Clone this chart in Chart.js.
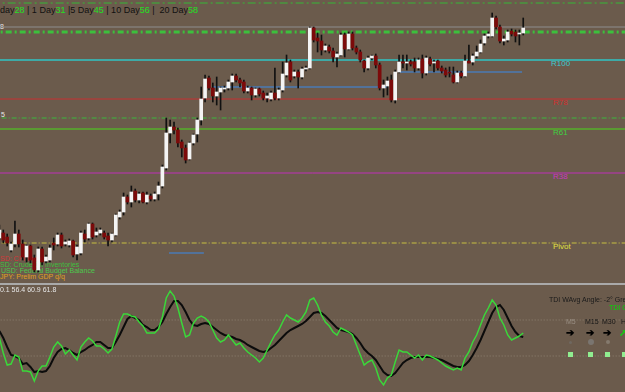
<!DOCTYPE html>
<html lang="en">

<head>
    <meta charset="UTF-8" />
    <title>TDI H1</title>
    <script src="https://cdn.jsdelivr.net/npm/chart.js"></script>
    <style>
        body {
            margin: 0;
            width: 625px;
            height: 392px;
            overflow: hidden;
            position: relative;
            background: #6b5b4c;
            font-family: "Liberation Sans", Arial, sans-serif;
        }

        canvas {
            position: absolute;
            left: 0;
        }

        #precio { top: 0; }
        #tdi { top: 285px; }

        .sep {
            position: absolute;
            left: 0;
            top: 283px;
            width: 625px;
            height: 2px;
            background: #a9a9a9;
        }

        .t {
            position: absolute;
            white-space: pre;
            font-size: 8px;
            line-height: 8px;
        }

        .g { color: #22e022; }

        .sq {
            position: absolute;
            width: 5px;
            height: 5px;
            background: #90ee90;
        }

        .dot {
            position: absolute;
            border-radius: 50%;
        }
    </style>
</head>

<body>

    <!-- textos detras de las velas -->
    <div class="t" style="left:0;top:6px;font-size:9px;line-height:9px;color:#111">day<span class="g">28</span> | 1 Day<span class="g">31</span> |5 Day<span class="g">45</span> | 10 Day<span class="g">56</span> |  20 Day<span class="g">58</span></div>
    <div class="t" style="left:0;top:23px;font-size:7px;color:#e8e8e8">8</div>
    <div class="t" style="left:1px;top:111px;font-size:7px;color:#e8e8e8">5</div>

    <div class="t" style="left:0;top:255px;font-size:7px;line-height:7px;color:#d03a3a">SD: CPI m/m</div>
    <div class="t" style="left:0;top:261px;font-size:7px;line-height:7px;color:#3fbf3f">SD: Crude Oil Inventories</div>
    <div class="t" style="left:1px;top:267px;font-size:7px;line-height:7px;color:#4cc84c">USD: Federal Budget Balance</div>
    <div class="t" style="left:0;top:273px;font-size:7px;line-height:7px;color:#e0a020">JPY: Prelim GDP q/q</div>

    <div class="t" style="left:551px;top:60px;color:#40c8d0">R100</div>
    <div class="t" style="left:553px;top:99px;color:#d03030">R78</div>
    <div class="t" style="left:553px;top:129px;color:#40d040">R61</div>
    <div class="t" style="left:553px;top:173px;color:#c838c0">R38</div>
    <div class="t" style="left:553px;top:243px;color:#e0e040">Pivot</div>

    <canvas id="precio" width="625" height="284"></canvas>
    <div class="sep"></div>
    <canvas id="tdi" width="625" height="107"></canvas>

    <div class="t" style="left:-4px;top:286px;font-size:7px;line-height:7px;color:#e6e6e6">40.1 56.4 60.9 61.8</div>
    <div class="t" style="left:549px;top:296px;font-size:7px;line-height:7px;color:#1a1a1a">TDI WAvg Angle: -2° Green</div>
    <div class="t" style="left:609px;top:304px;font-size:7px;line-height:7px;color:#00dd00">TDI Cross</div>
    <div class="t" style="left:566px;top:318px;font-size:7px;line-height:7px;color:#9a8f84">M5</div>
    <div class="t" style="left:585px;top:318px;font-size:7px;line-height:7px;color:#151515">M15</div>
    <div class="t" style="left:602px;top:318px;font-size:7px;line-height:7px;color:#151515">M30</div>
    <div class="t" style="left:621px;top:318px;font-size:7px;line-height:7px;color:#151515">H1</div>
    <div class="t" style="left:566px;top:328px;font-size:10px;line-height:10px;color:#000;font-weight:bold">➔</div>
    <div class="t" style="left:586px;top:328px;font-size:10px;line-height:10px;color:#000;font-weight:bold">➔</div>
    <div class="t" style="left:603px;top:328px;font-size:10px;line-height:10px;color:#000;font-weight:bold">➔</div>
    <div class="t" style="left:619px;top:328px;font-size:10px;line-height:10px;color:#10d010;font-weight:bold">➚</div>
    <div class="dot" style="left:569px;top:341px;width:3px;height:3px;background:#6f6860"></div>
    <div class="dot" style="left:588px;top:339px;width:6px;height:6px;background:#7a7570"></div>
    <div class="dot" style="left:606px;top:340px;width:4px;height:4px;background:#857a6e"></div>
    <div class="sq" style="left:568px;top:352px"></div>
    <div class="sq" style="left:588px;top:352px"></div>
    <div class="sq" style="left:605px;top:352px"></div>
    <div class="sq" style="left:622px;top:352px"></div>

    <script>
        // velas H1, la primera (indice -1) queda cortada en el borde
        const openP = [
            1762, 1767, 1763, 1750, 1756, 1766, 1756, 1743, 1754, 1742,
            1730, 1751, 1739, 1740, 1757, 1756, 1765, 1756, 1755, 1759,
            1746, 1747, 1766, 1762, 1776, 1765, 1767, 1767, 1764, 1760,
            1765, 1783, 1788, 1803, 1798, 1809, 1800, 1807, 1798, 1804,
            1801, 1806, 1814, 1832, 1867, 1873, 1870, 1858, 1852, 1841,
            1857, 1866, 1880, 1902, 1922, 1912, 1904, 1908, 1911, 1912,
            1918, 1924, 1920, 1918, 1909, 1912, 1905, 1911, 1907, 1902,
            1901, 1907, 1902, 1910, 1925, 1938, 1924, 1928, 1923, 1931,
            1932, 1972, 1962, 1959, 1950, 1953, 1949, 1943, 1945, 1965,
            1951, 1966, 1952, 1948, 1939, 1932, 1942, 1944, 1935, 1912,
            1914, 1920, 1900, 1928, 1938, 1937, 1938, 1938, 1932, 1941,
            1927, 1941, 1937, 1939, 1932, 1930, 1928, 1925, 1918, 1927,
            1924, 1939, 1938, 1944, 1948, 1957, 1964, 1964, 1982, 1973,
            1959, 1960, 1969, 1968, 1966, 1967
        ];
        const highP = [
            1775, 1770, 1766, 1758, 1779, 1770, 1760, 1755, 1755, 1745,
            1753, 1753, 1745, 1755, 1762, 1767, 1767, 1760, 1761, 1760,
            1755, 1769, 1770, 1777, 1777, 1772, 1772, 1769, 1767, 1767,
            1786, 1790, 1807, 1805, 1814, 1811, 1808, 1808, 1808, 1806,
            1808, 1818, 1835, 1882, 1880, 1878, 1872, 1860, 1855, 1858,
            1866, 1882, 1913, 1925, 1924, 1917, 1923, 1913, 1914, 1920,
            1926, 1926, 1922, 1920, 1914, 1913, 1912, 1912, 1909, 1907,
            1909, 1932, 1912, 1938, 1945, 1940, 1930, 1930, 1933, 1934,
            1973, 1973, 1967, 1965, 1956, 1955, 1952, 1948, 1967, 1967,
            1968, 1968, 1954, 1950, 1940, 1944, 1945, 1946, 1937, 1920,
            1923, 1925, 1930, 1945, 1945, 1945, 1940, 1942, 1942, 1945,
            1944, 1943, 1940, 1940, 1934, 1932, 1933, 1933, 1929, 1929,
            1945, 1955, 1946, 1954, 1960, 1966, 1968, 1987, 1984, 1975,
            1964, 1970, 1971, 1970, 1970, 1982
        ];
        const lowP = [
            1760, 1757, 1754, 1748, 1753, 1753, 1740, 1738, 1737, 1728,
            1728, 1735, 1737, 1738, 1750, 1754, 1752, 1754, 1753, 1743,
            1740, 1745, 1758, 1760, 1761, 1763, 1765, 1761, 1754, 1758,
            1764, 1781, 1785, 1796, 1793, 1798, 1797, 1797, 1796, 1799,
            1799, 1800, 1812, 1830, 1857, 1866, 1853, 1843, 1837, 1840,
            1855, 1858, 1875, 1898, 1910, 1898, 1895, 1890, 1908, 1910,
            1910, 1918, 1913, 1907, 1907, 1900, 1903, 1904, 1900, 1898,
            1899, 1900, 1900, 1908, 1923, 1918, 1922, 1912, 1921, 1929,
            1931, 1958, 1948, 1945, 1948, 1947, 1938, 1933, 1944, 1943,
            1950, 1950, 1946, 1938, 1928, 1930, 1940, 1932, 1910, 1903,
            1905, 1898, 1897, 1927, 1932, 1930, 1934, 1928, 1930, 1922,
            1925, 1934, 1928, 1930, 1927, 1923, 1923, 1917, 1917, 1922,
            1923, 1937, 1935, 1942, 1947, 1955, 1962, 1963, 1971, 1957,
            1955, 1958, 1964, 1958, 1955, 1965
        ];
        const closeP = [
            1770, 1760, 1757, 1756, 1766, 1756, 1743, 1754, 1740, 1730,
            1751, 1738, 1743, 1752, 1755, 1765, 1754, 1758, 1759, 1745,
            1753, 1767, 1761, 1776, 1763, 1768, 1770, 1763, 1760, 1766,
            1785, 1788, 1803, 1798, 1808, 1800, 1806, 1798, 1805, 1801,
            1806, 1814, 1833, 1867, 1873, 1870, 1857, 1852, 1840, 1857,
            1865, 1880, 1901, 1921, 1912, 1904, 1908, 1912, 1912, 1918,
            1924, 1920, 1917, 1909, 1912, 1905, 1911, 1906, 1902, 1904,
            1907, 1902, 1910, 1926, 1937, 1920, 1928, 1923, 1931, 1932,
            1972, 1960, 1959, 1950, 1954, 1949, 1943, 1946, 1965, 1951,
            1966, 1952, 1948, 1940, 1932, 1942, 1944, 1935, 1912, 1915,
            1919, 1900, 1928, 1938, 1937, 1938, 1936, 1932, 1940, 1927,
            1942, 1936, 1938, 1932, 1929, 1925, 1927, 1918, 1927, 1924,
            1939, 1937, 1944, 1948, 1956, 1964, 1966, 1982, 1973, 1959,
            1961, 1968, 1966, 1964, 1967, 1972
        ];

        // niveles horizontales
        const nivelNombres = ['maxSemana', 'maxAyer', 'maxHoy', 'R100', 'R78', 'fib70', 'R61', 'R38', 'Pivot'];
        const nivelValores = [1997, 1973, 1968, 1940, 1901, 1882, 1871, 1827, 1757];
        // tramos azules: desde, hasta (indice de vela) y precio
        const tramoDesde = [42.7, 54, 102.2];
        const tramoHasta = [51.7, 99.2, 133.7];
        const tramoValor = [1747, 1913, 1928];

        // TDI: linea de precio RSI (verde) y linea de señal (negra)
        const rsiVerde = [
            50, 35, 23, 24, 33, 31, 17, 17, 16, 7,
            17, 22, 22, 31, 41, 46, 42, 34, 38, 33,
            28, 41, 46, 50, 47, 42, 42, 39, 35, 39,
            52, 66, 74, 74, 72, 71, 66, 62, 55, 55,
            55, 59, 71, 90, 97, 92, 80, 65, 51, 53,
            65, 70, 72, 70, 66, 58, 50, 46, 48, 53,
            48, 43, 45, 40, 36, 33, 30, 26, 30, 38,
            46, 53, 58, 66, 73, 70, 68, 66, 70, 76,
            88, 90, 83, 73, 66, 62, 56, 53, 60, 58,
            56, 53, 43, 33, 23, 26, 28, 20, 8, 3,
            10, 13, 26, 38, 36, 36, 33, 30, 33, 28,
            33, 32, 30, 28, 25, 22, 20, 18, 20, 18,
            30, 36, 46, 53, 63, 73, 80, 88, 83, 70,
            63, 53, 48, 50, 52, 55
        ];
        const senalNegra = [
            57, 50, 41, 33, 32, 30, 24, 25, 21, 16,
            17, 16, 17, 22, 30, 36, 39, 40, 38, 35,
            33, 36, 38, 41, 43, 46, 46, 43, 40, 40,
            46, 53, 61, 69, 72, 70, 68, 63, 61, 58,
            58, 61, 66, 74, 81, 87, 87, 83, 76, 68,
            63, 62, 64, 65, 64, 61, 58, 55, 53, 52,
            51, 49, 48, 46, 43, 41, 39, 37, 36, 37,
            40, 43, 47, 51, 55, 58, 60, 62, 64, 67,
            71, 75, 76, 75, 72, 68, 64, 60, 58, 57,
            56, 54, 50, 45, 39, 35, 32, 28, 22, 16,
            13, 12, 15, 20, 25, 28, 30, 31, 31, 31,
            31, 31, 30, 29, 28, 26, 24, 22, 21, 21,
            23, 27, 33, 40, 48, 57, 66, 75, 81, 83,
            78, 70, 62, 56, 52, 51
        ];
        const tdiNiveles = [68, 32];

        const X_MIN = -0.85, X_MAX = 160.23;

        const estilos = {
            maxSemana: { color: '#36b836', width: 1, dash: [8, 3, 2, 3] },
            maxAyer: { color: '#8e8e8e', width: 1, dash: [] },
            maxHoy: { color: '#3cc03c', width: 3, dash: [6, 3, 2, 3] },
            R100: { color: '#2ec4c4', width: 1.5, dash: [] },
            R78: { color: '#c83030', width: 1, dash: [] },
            fib70: { color: '#3cb83c', width: 1, dash: [5, 2, 1, 2] },
            R61: { color: '#5a9a32', width: 2, dash: [] },
            R38: { color: '#c030b8', width: 1, dash: [] },
            Pivot: { color: '#c8c040', width: 1, dash: [5, 2, 1, 2] }
        };

        function linea(valor, desde, hasta, color, ancho, dash) {
            return {
                type: 'line',
                data: [{ x: desde, y: valor }, { x: hasta, y: valor }],
                borderColor: color,
                borderWidth: ancho,
                borderDash: dash,
                pointRadius: 0,
                fill: false,
                order: 5
            };
        }

        const xs = openP.map((_, k) => k - 1);
        const cuerpos = xs.map((x, k) => ({ x: x, y: [openP[k], closeP[k]] }));
        const mechas = xs.map((x, k) => ({ x: x, y: [lowP[k], highP[k]] }));
        const coloresCuerpo = xs.map((_, k) => closeP[k] >= openP[k] ? '#f4f4f4' : '#7c0a0a');

        const datasetsPrecio = [];
        nivelNombres.forEach((n, k) => {
            const e = estilos[n];
            datasetsPrecio.push(linea(nivelValores[k], -3, 165, e.color, e.width, e.dash));
        });
        tramoValor.forEach((v, k) => {
            datasetsPrecio.push(linea(v, tramoDesde[k], tramoHasta[k], '#4a7ab4', 1.5, []));
        });
        datasetsPrecio.push({
            type: 'bar',
            data: mechas,
            backgroundColor: '#111111',
            barThickness: 1,
            grouped: false,
            order: 2
        });
        datasetsPrecio.push({
            type: 'bar',
            data: cuerpos,
            backgroundColor: coloresCuerpo,
            barThickness: 3,
            minBarLength: 1,
            grouped: false,
            order: 1
        });

        const sinEjes = (ymin, ymax) => ({
            x: { type: 'linear', min: X_MIN, max: X_MAX, display: false, offset: false },
            y: { min: ymin, max: ymax, display: false }
        });

        const opcionesBase = {
            responsive: false,
            animation: false,
            events: [],
            devicePixelRatio: 1,
            layout: { padding: 0 },
            plugins: { legend: { display: false }, tooltip: { enabled: false } }
        };

        new Chart(document.getElementById('precio'), {
            type: 'bar',
            data: { datasets: datasetsPrecio },
            options: Object.assign({}, opcionesBase, { scales: sinEjes(1716, 2000) })
        });

        const datasetsTdi = tdiNiveles.map(v => linea(v, -3, 165, '#8e8070', 1, [1, 2]));
        datasetsTdi.push({
            type: 'line',
            data: xs.map((x, k) => ({ x: x, y: senalNegra[k] })),
            borderColor: '#0c0c0c',
            borderWidth: 2,
            pointRadius: 0,
            fill: false,
            order: 2
        });
        datasetsTdi.push({
            type: 'line',
            data: xs.map((x, k) => ({ x: x, y: rsiVerde[k] })),
            borderColor: '#3ad83a',
            borderWidth: 1.5,
            pointRadius: 0,
            fill: false,
            order: 1
        });

        new Chart(document.getElementById('tdi'), {
            type: 'line',
            data: { datasets: datasetsTdi },
            options: Object.assign({}, opcionesBase, { scales: sinEjes(-4, 103) })
        });
    </script>

</body>

</html>
